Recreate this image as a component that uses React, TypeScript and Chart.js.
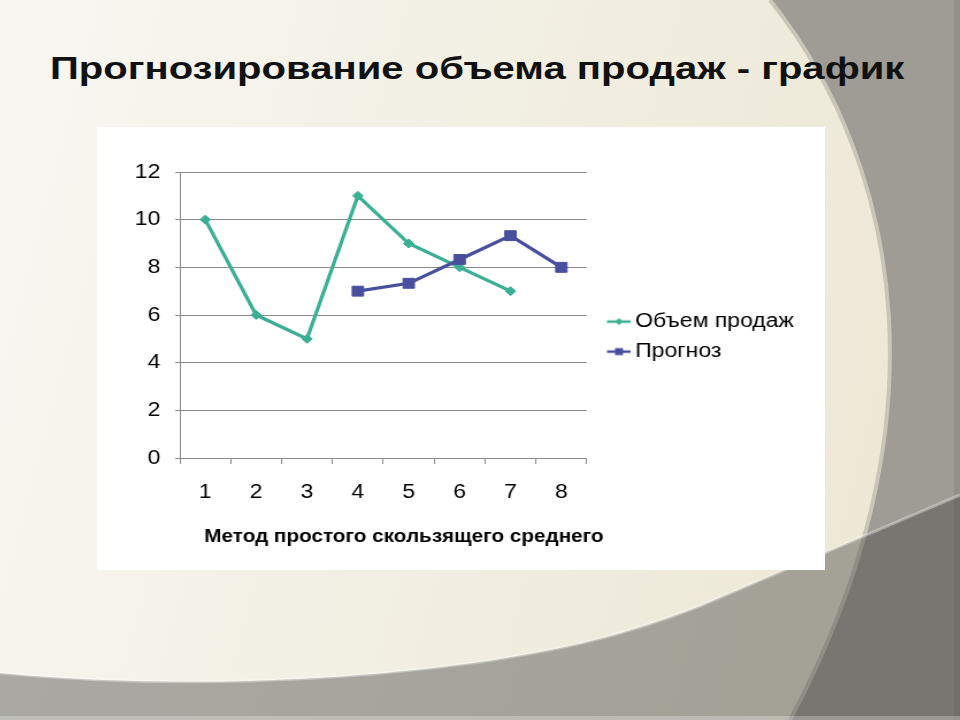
import React, { useEffect, useRef } from 'react';
import { Chart, registerables } from 'chart.js';

Chart.register(...registerables);

// ---- data ----
const slideTitle = 'Прогнозирование объема продаж - график';
const axisTitle = 'Метод простого скользящего среднего';
const categories = ['1', '2', '3', '4', '5', '6', '7', '8'];
const seriesNames = ['Объем продаж', 'Прогноз'];
const salesVolume: (number | null)[] = [10, 6, 5, 11, 9, 8, 7, null];
const forecast: (number | null)[] = [null, null, null, 7, 7.33, 8.33, 9.33, 8];
const yMin = 0;
const yMax = 12;
const yStep = 2;

// ---- styles ----
const TEAL = '#3aaf94';
const BLUE = '#484f9f';
const GRID = '#8c8c8c';
const FONT = '"Liberation Sans", Arial, sans-serif';

function legendIcon(color: string, kind: 'diamond' | 'square') {
  const c = document.createElement('canvas');
  c.width = 35;
  c.height = 12;
  const g = c.getContext('2d')!;
  g.strokeStyle = color;
  g.lineWidth = 2.5;
  g.beginPath();
  g.moveTo(14, 6);
  g.lineTo(35, 6);
  g.stroke();
  g.fillStyle = color;
  const cx = 24.5;
  if (kind === 'diamond') {
    g.beginPath();
    g.moveTo(cx, 2.5);
    g.lineTo(cx + 3.5, 6);
    g.lineTo(cx, 9.5);
    g.lineTo(cx - 3.5, 6);
    g.closePath();
    g.fill();
  } else {
    g.fillRect(cx - 3.5, 2.5, 7, 7);
  }
  return c;
}

const xTitlePlugin = {
  id: 'xTitleCustom',
  afterDraw(chart: any) {
    const { ctx, chartArea } = chart;
    ctx.save();
    ctx.font = `bold 18px ${FONT}`;
    ctx.fillStyle = '#000';
    ctx.textAlign = 'center';
    ctx.textBaseline = 'middle';
    ctx.fillText(axisTitle, (chartArea.left + chartArea.right) / 2 + 18, chartArea.bottom + 79);
    ctx.restore();
  },
};

export default function App() {
  const canvasRef = useRef<HTMLCanvasElement>(null);

  useEffect(() => {
    const canvas = canvasRef.current!;
    Chart.defaults.font.family = FONT;
    const icons = [legendIcon(TEAL, 'diamond'), legendIcon(BLUE, 'square')];
    const chart = new Chart(canvas, {
      type: 'line',
      data: {
        labels: categories,
        datasets: [
          {
            label: seriesNames[0],
            data: salesVolume,
            borderColor: TEAL,
            backgroundColor: TEAL,
            borderWidth: 3.2,
            pointStyle: 'rectRot',
            pointRadius: 4.5,
            pointBorderWidth: 1,
            pointBackgroundColor: TEAL,
            pointBorderColor: TEAL,
            tension: 0,
            order: 1,
          },
          {
            label: seriesNames[1],
            data: forecast,
            borderColor: BLUE,
            backgroundColor: BLUE,
            borderWidth: 3.2,
            pointStyle: 'rect',
            pointRadius: 7,
            pointBorderWidth: 1,
            pointBackgroundColor: BLUE,
            pointBorderColor: BLUE,
            tension: 0,
            order: 0,
          },
        ],
      },
      options: {
        responsive: false,
        animation: false,
        devicePixelRatio: 1,
        layout: { padding: { top: 45, left: 0, right: 17, bottom: 0 } },
        plugins: {
          legend: {
            position: 'right',
            align: 'center',
            fullSize: false,
            maxWidth: 260,
            title: { display: true, text: ' ', font: { size: 1 }, padding: { top: 42, bottom: 0 } },
            labels: {
              usePointStyle: true,
              pointStyleWidth: 22,
              padding: 10,
              color: '#000',
              font: { size: 20, family: FONT },
              generateLabels: (ch: any) => {
                const items = (Chart.defaults.plugins.legend.labels as any).generateLabels(ch);
                items.sort((a: any, b: any) => a.datasetIndex - b.datasetIndex);
                return items.map((it: any) => ({ ...it, pointStyle: icons[it.datasetIndex] }));
              },
            },
          },
          tooltip: { enabled: false },
        },
        scales: {
          x: {
            type: 'category',
            offset: true,
            grid: { display: true, offset: true, drawOnChartArea: false, drawTicks: true, tickLength: 6, color: GRID },
            border: { display: true, color: GRID, width: 1 },
            ticks: { color: '#000', font: { size: 20, family: FONT }, padding: 16, maxRotation: 0, autoSkip: false },
            afterFit: (s: any) => { s.height = 112; },
          },
          y: {
            min: yMin,
            max: yMax,
            ticks: { stepSize: yStep, color: '#000', font: { size: 20, family: FONT }, padding: 13 },
            grid: { color: GRID, tickLength: 4, drawTicks: true },
            border: { display: true, color: GRID, width: 1 },
            afterFit: (s: any) => { s.width = 72; },
          },
        },
      },
      plugins: [xTitlePlugin],
    } as any);
    return () => chart.destroy();
  }, []);

  return (
    <div style={{ position: 'fixed', left: 0, top: 0, width: 960, height: 720, overflow: 'hidden', fontFamily: FONT }}>
      <svg width={960} height={720} style={{ position: 'absolute', left: 0, top: 0 }}>
        <defs>
          <linearGradient id="cream" x1="0" y1="0" x2="1" y2="0.2">
            <stop offset="0" stopColor="#f8f7f2" />
            <stop offset="1" stopColor="#ede8d6" />
          </linearGradient>
        </defs>
        <rect x={0} y={0} width={960} height={720} fill="url(#cream)" />
        <path d="M770 0 C 905 170, 945 430, 790 720 L 960 720 L 960 0 Z" fill="#9e9c95" />
        <path d="M770 0 C 905 170, 945 430, 790 720" fill="none" stroke="#c9c6b7" strokeWidth={4} />
        <rect x={954} y={0} width={6} height={720} fill="rgba(60,60,56,0.12)" />
        <path d="M0 673 C 180 690, 350 680, 480 662 C 560 650, 620 637, 700 606 L 960 495 L 960 720 L 0 720 Z" fill="rgba(70,70,68,0.44)" />
        <path d="M0 673 C 180 690, 350 680, 480 662 C 560 650, 620 637, 700 606 L 960 495" fill="none" stroke="rgba(255,255,255,0.35)" strokeWidth={3} />
        <rect x={0} y={716} width={960} height={4} fill="rgba(255,255,255,0.25)" />
      </svg>
      <div
        style={{
          position: 'absolute',
          left: 50,
          top: 52,
          fontSize: 32,
          fontWeight: 'bold',
          lineHeight: 1,
          whiteSpace: 'nowrap',
          transform: 'scaleX(1.252)',
          transformOrigin: '0 0',
          color: '#111',
        }}
      >
        {slideTitle}
      </div>
      <div style={{ position: 'absolute', left: 97, top: 127, width: 728, height: 443, background: '#fff' }}>
        <div style={{ width: 633, height: 443, transform: 'scaleX(1.15)', transformOrigin: '0 0' }}>
          <canvas ref={canvasRef} width={633} height={443} style={{ display: 'block', width: 633, height: 443 }} />
        </div>
      </div>
    </div>
  );
}
